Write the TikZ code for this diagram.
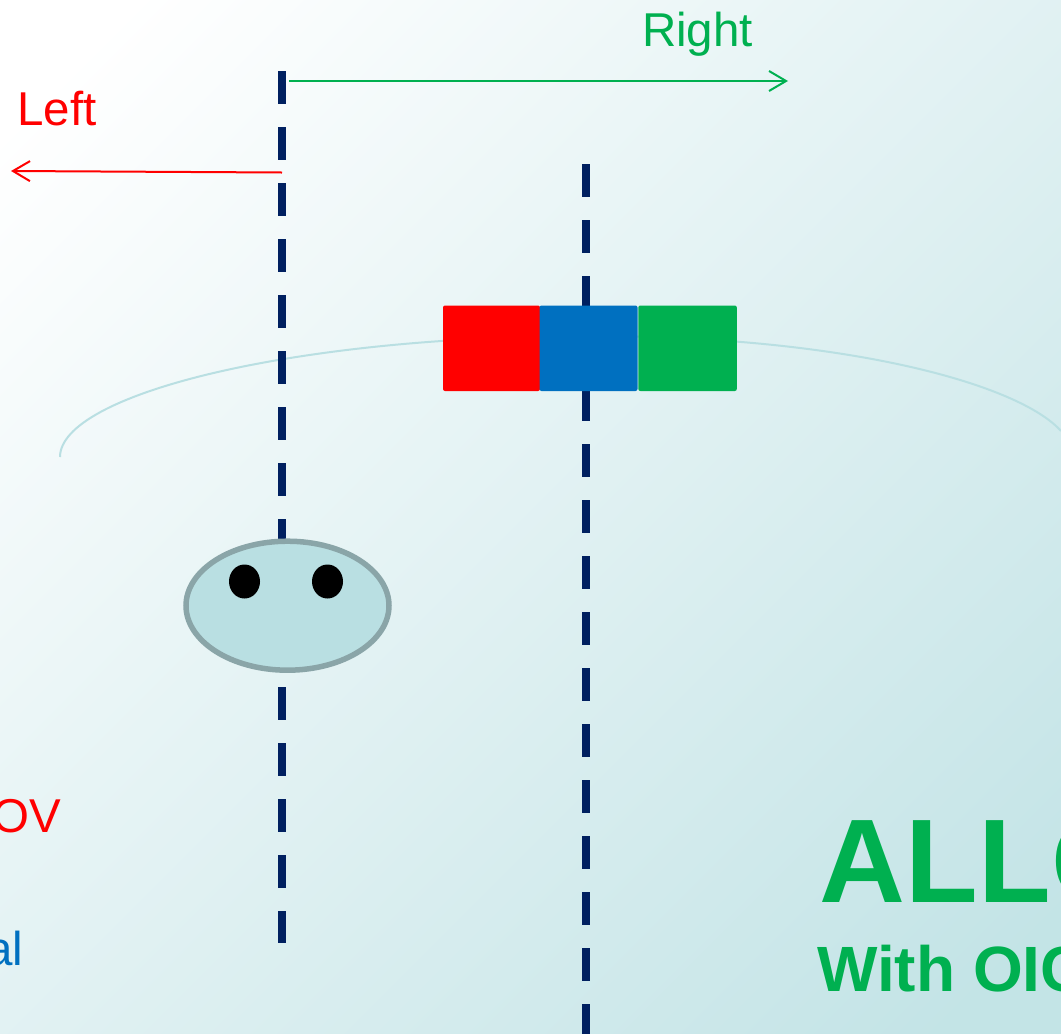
\documentclass[tikz,border=0pt]{standalone}
\usepackage{fontspec}
\setmainfont{Liberation Sans}
\usetikzlibrary{arrows.meta,shapes.geometric}
\definecolor{navy}{HTML}{002060}
\definecolor{azure}{HTML}{0070C0}
\definecolor{leaf}{HTML}{00B050}
\definecolor{pale}{HTML}{B9DFE2}
\definecolor{rim}{HTML}{8AA5A8}
\pgfdeclareverticalshading{bgshade}{100bp}{color(0bp)=(white); color(19bp)=(white); color(81bp)=(pale!85!white); color(100bp)=(pale!85!white)}
\tikzset{
  x=1pt,y=-1pt,
  guide/.style={draw=navy,line width=8pt,dash pattern=on 32.5pt off 23.5pt},
  swatch/.style={minimum height=85.5pt,inner sep=0pt,outer sep=0pt,rounded corners=2pt,draw=none},
  pointer/.style={line width=2pt,-{Straight Barb[length=17pt,width=20pt,line width=2pt]}},
  eye/.style={ellipse,fill=black,minimum width=31pt,minimum height=34pt,inner sep=0pt},
  lbl/.style={inner sep=0pt,outer sep=0pt,font=\fontsize{47.5}{47.5}\selectfont},
  sweep/.style={draw=pale,line width=2pt}
}
\begin{document}
\begin{tikzpicture}
\useasboundingbox (0,0) rectangle (1061,1034);
\clip (0,0) rectangle (1061,1034);
\shade[shading=bgshade,shading angle=-135] (0,0) rectangle (1061,1034);
% sweep arc
\coordinate (arcL) at (60,457);
\coordinate (arcTop) at (590,336);
\coordinate (arcR) at (1061,431);
\draw[sweep] (arcL) .. controls (60,395) and (290,336) .. (arcTop) .. controls (850,336) and (1020,385) .. (arcR);
% guides
\coordinate (g1a) at (282,71);
\coordinate (g1b) at (282,943);
\coordinate (g2a) at (586,164);
\coordinate (g2b) at (586,1040);
\draw[guide] (g1a) -- (g1b);
\draw[guide] (g2a) -- (g2b);
% swatches
\node[swatch,fill=red,minimum width=97pt,anchor=north west] (sr) at (443,305.5) {};
\node[swatch,fill=azure,minimum width=98pt,anchor=north west] (sb) at (539.5,305.5) {};
\node[swatch,fill=leaf,minimum width=98.5pt,anchor=north west] (sg) at (638.3,305.5) {};
% head
\node[ellipse,draw=rim,fill=pale,line width=5.5pt,minimum width=203pt,minimum height=129pt,inner sep=0pt] (head) at (287.5,605.7) {};
\node[eye] (e1) at (244.5,581.5) {};
\node[eye] (e2) at (327.5,581.5) {};
% arrows
\coordinate (ra) at (282,172.5);
\coordinate (rb) at (11,171);
\coordinate (ga) at (289,81);
\coordinate (gb) at (788,81);
\draw[pointer,red] (ra) -- (rb);
\draw[pointer,leaf] (ga) -- (gb);
% labels
\node[lbl,text=leaf,anchor=base west] (tr) at (642,46) {Right};
\node[lbl,text=red,anchor=base west] (tl) at (17.5,125) {Left};
\node[lbl,text=red,anchor=base east] (tf) at (61,832) {OV};
\node[lbl,text=azure,anchor=base east] (ta) at (23.5,965) {al};
\node[inner sep=0pt,text=leaf,anchor=base west,font=\bfseries\fontsize{119}{119}\selectfont] (t1) at (819.5,902) {ALLO};
\node[inner sep=0pt,text=leaf,anchor=base west,font=\bfseries\fontsize{64}{64}\selectfont] (t2) at (817,991) {With OIC};
\end{tikzpicture}
\end{document}
